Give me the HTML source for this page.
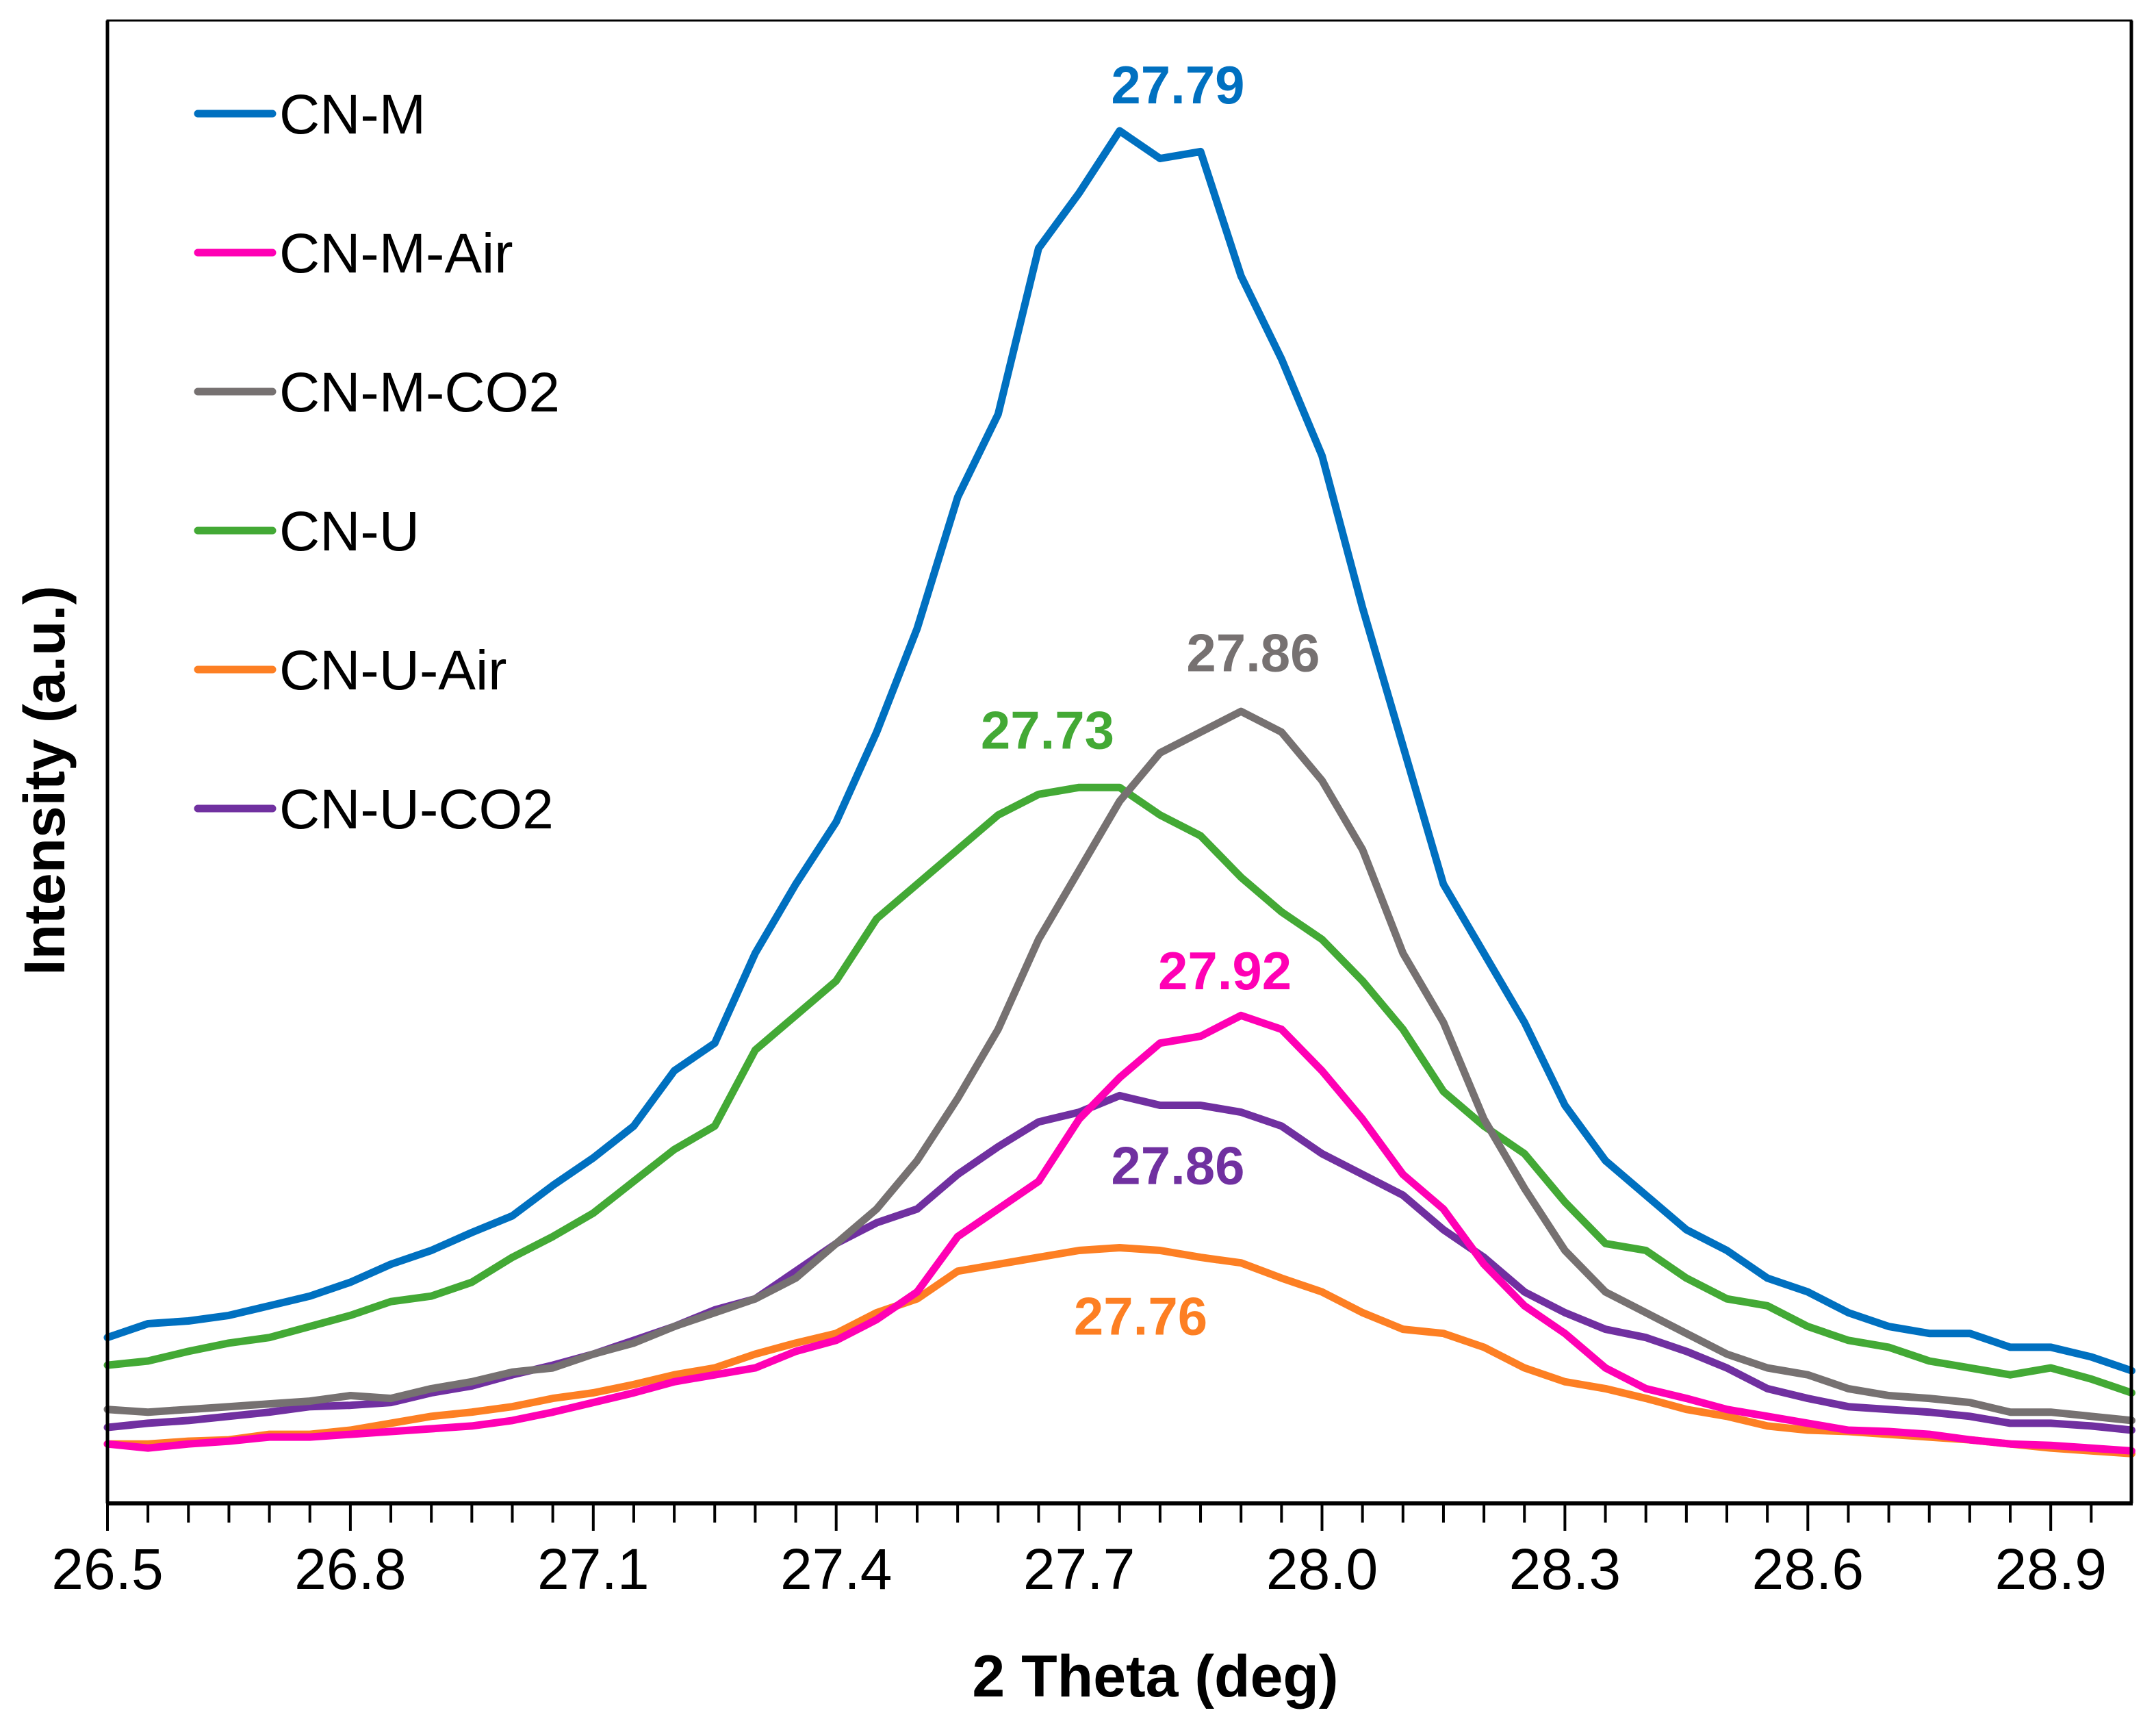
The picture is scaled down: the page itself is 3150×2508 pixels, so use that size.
<!DOCTYPE html>
<html><head><meta charset="utf-8"><style>
body{margin:0;background:#fff}
svg{display:block}
text{font-family:"Liberation Sans",Arial,sans-serif}
</style></head><body>
<svg id="chart" width="3150" height="2508" viewBox="0 0 3150 2508" xmlns="http://www.w3.org/2000/svg">
<rect width="3150" height="2508" fill="#fff"/>
<g id="series"></g>
<g id="axes"></g>
<g id="legend"></g>
<g id="labels"></g>
<text x="1688" y="2478" font-size="86" font-weight="bold" text-anchor="middle">2 Theta (deg)</text>
<text transform="translate(94,1140) rotate(-90)" font-size="84" font-weight="bold" text-anchor="middle">Intensity (a.u.)</text>
</svg>
<script>
const thetaStart = 26.5;
const thetaStep = 0.05;
const tickLabels = ["26.5","26.8","27.1","27.4","27.7","28.0","28.3","28.6","28.9"];
const seriesNames = ["CN-M","CN-M-Air","CN-M-CO2","CN-U","CN-U-Air","CN-U-CO2"];
const cnM = [120,130,132,136,143,150,160,173,183,196,208,230,250,273,313,333,398,448,493,558,633,728,788,908,948,993,973,978,888,828,758,648,548,448,398,348,288,248,223,198,183,163,153,138,128,123,123,113,113,106,96];
const cnMAir = [43,40,43,45,48,48,50,52,54,56,60,66,73,80,88,93,98,110,118,133,153,193,213,233,278,308,333,338,353,343,313,278,238,213,173,143,123,98,83,76,68,63,58,53,52,50,46,43,42,40,38];
const cnMCO2 = [68,66,68,70,72,74,78,76,83,88,95,98,108,116,128,138,148,163,188,213,248,293,343,408,458,508,543,558,573,558,523,473,398,348,278,228,183,153,138,123,108,98,93,83,78,76,73,66,66,63,60];
const cnU = [100,103,110,116,120,128,136,146,150,160,178,193,210,233,256,273,328,353,378,423,448,473,498,513,518,518,498,483,453,428,408,378,343,298,273,253,218,188,183,163,148,143,128,118,113,103,98,93,98,90,80];
const cnUAir = [43,43,45,46,50,50,53,58,63,66,70,76,80,86,93,98,108,116,123,138,148,168,173,178,183,185,183,178,174,163,153,138,126,123,113,98,88,83,76,68,63,56,53,52,50,48,46,43,40,38,36];
const cnUCO2 = [55,58,60,63,66,70,71,73,80,85,93,100,108,118,128,140,148,168,188,203,213,238,258,276,283,295,288,288,283,273,253,238,223,198,178,153,138,126,120,110,98,83,76,70,68,66,63,58,58,56,53];
const peakLabels = ["27.79","27.92","27.86","27.73","27.76","27.86"];
const labelTheta = [27.822,27.88,27.915,27.661,27.776,27.822];
const labelIntensity = [1013,372,602,546,122,231];

const colors = ["#0070c0","#ff00b4","#767171","#43a935","#fd7f23","#7030a0"];
const allSeries = [cnM,cnMAir,cnMCO2,cnU,cnUAir,cnUCO2];
const X0=157, XPU=1183, Y0=2196, K=2.019;
const xS = t => X0 + (t-26.5)*XPU;
const yS = v => Y0 - v*K;
const NS="http://www.w3.org/2000/svg";
function mk(tag, attrs, parent){const e=document.createElementNS(NS,tag);for(const k in attrs)e.setAttribute(k,attrs[k]);parent.appendChild(e);return e;}

const sg=document.getElementById('series');
allSeries.slice().reverse().forEach((arr,ri)=>{
  const i=allSeries.length-1-ri;
  const d=arr.map((v,j)=>(j?'L':'M')+xS(thetaStart+j*thetaStep).toFixed(1)+','+yS(v).toFixed(1)).join(' ');
  const p=mk('path',{d:d,fill:'none',stroke:colors[i],'stroke-width':11,'stroke-linejoin':'round','stroke-linecap':'round'},sg);
  
  
});

const ag=document.getElementById('axes');
const fr=mk('rect',{x:X0,y:30,width:3114-X0,height:Y0-30,fill:'none',stroke:'#000','stroke-width':3},ag);


const yl=mk('line',{x1:X0,y1:30,x2:X0,y2:Y0,stroke:'#000','stroke-width':5},ag);


const rl=mk('line',{x1:3114,y1:30,x2:3114,y2:Y0,stroke:'#000','stroke-width':5},ag);


const xl=mk('line',{x1:X0-2,y1:Y0,x2:3116,y2:Y0,stroke:'#000','stroke-width':6},ag);


for(let j=0;j<=49;j++){
  const t=26.5+j*0.05; const major=(j%6===0);
  const tk=mk('line',{x1:xS(t),y1:Y0,x2:xS(t),y2:Y0+(major?40:28),stroke:'#000','stroke-width':4},ag);
  
  
}
tickLabels.forEach(s=>{
  const t=mk('text',{x:xS(parseFloat(s)),y:2321,'font-size':84,'text-anchor':'middle'},ag);
  t.textContent=s;
  
  
});

const lg=document.getElementById('legend');
seriesNames.forEach((n,i)=>{
  const y=166+i*203;
  const g=mk('g',{},lg);
  
  
  mk('line',{x1:289,y1:y,x2:398,y2:y,stroke:colors[i],'stroke-width':11,'stroke-linecap':'round'},g);
  const t=mk('text',{x:408,y:y+29,'font-size':82},g);
  t.textContent=n;
});

const lbg=document.getElementById('labels');
peakLabels.forEach((s,i)=>{
  const t=mk('text',{x:xS(labelTheta[i]),y:yS(labelIntensity[i]),'font-size':78,'font-weight':'bold','text-anchor':'middle',fill:colors[i]},lbg);
  t.textContent=s;
  
  
});
</script>
</body></html>
